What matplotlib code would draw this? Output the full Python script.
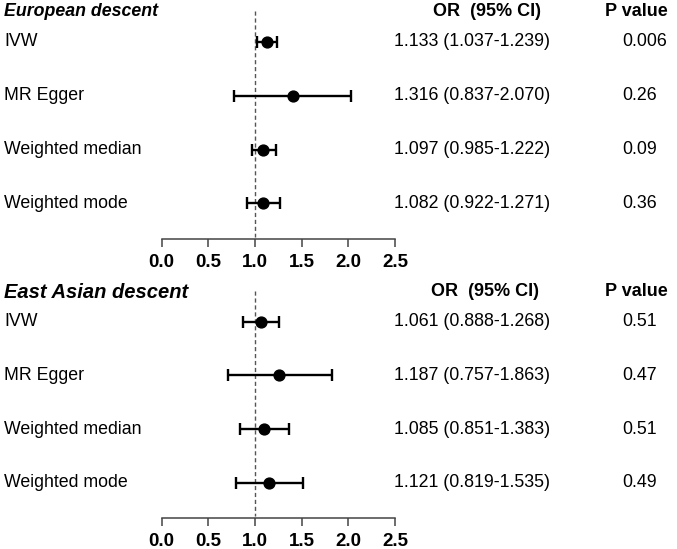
import matplotlib.pyplot as plt
import matplotlib.transforms as mtransforms

plt.rcParams['font.family'] = ['Liberation Sans', 'DejaVu Sans']

methods = ["IVW", "MR Egger", "Weighted median", "Weighted mode"]

# estimates as drawn in the picture (dot and whisker positions)
eur_or = [1.131, 1.404, 1.081, 1.089]
eur_lo = [1.024, 0.778, 0.971, 0.911]
eur_hi = [1.239, 2.025, 1.225, 1.267]
eur_ci = ["1.133 (1.037-1.239)", "1.316 (0.837-2.070)",
          "1.097 (0.985-1.222)", "1.082 (0.922-1.271)"]
eur_p = ["0.006", "0.26", "0.09", "0.36"]

eas_or = [1.064, 1.260, 1.100, 1.153]
eas_lo = [0.875, 0.714, 0.839, 0.793]
eas_hi = [1.260, 1.820, 1.367, 1.517]
eas_ci = ["1.061 (0.888-1.268)", "1.187 (0.757-1.863)",
          "1.085 (0.851-1.383)", "1.121 (0.819-1.535)"]
eas_p = ["0.51", "0.47", "0.51", "0.49"]

xticks = [0.0, 0.5, 1.0, 1.5, 2.0, 2.5]

W, H = 677, 549
fig = plt.figure(figsize=(W / 100, H / 100), dpi=100)


def panel(top_px, bottom_px, title, title_size, est, lo, hi, ci, pv, ci_head):
    ax = fig.add_axes([161.7 / W, 1 - bottom_px / H, (395 - 161.7) / W,
                       (bottom_px - top_px) / H])
    n = len(est)
    ypos = list(range(n))
    ax.set_xlim(0, 2.5)
    ax.set_ylim(n - 1 + 0.66, -0.78)
    ax.vlines(1.0, -0.58, n - 1 + 0.62, colors='#555555', linewidth=1,
              linestyles=(0, (3, 2)))
    xerr = [[e - l for e, l in zip(est, lo)], [h - e for e, h in zip(est, hi)]]
    ax.errorbar(est, ypos, xerr=xerr, fmt='o', color='black', ms=7.8,
                elinewidth=1.7, capsize=4.5, capthick=1.7, zorder=3)
    for s in ['top', 'right', 'left']:
        ax.spines[s].set_visible(False)
    ax.spines['bottom'].set_color('#444444')
    ax.spines['bottom'].set_linewidth(1.1)
    ax.set_yticks([])
    ax.set_xticks(xticks)
    ax.set_xticklabels(["%.1f" % t for t in xticks], fontweight='bold',
                       fontsize=13.5)
    ax.tick_params(axis='x', length=6, width=1.1, color='#444444', pad=5)

    tr = mtransforms.blended_transform_factory(fig.transFigure, ax.transData)
    fig.text(4 / W, 1 - (top_px + 12) / H, title, fontsize=title_size,
             fontweight='bold', fontstyle='italic', va='center')
    fig.text(ci_head / W, 1 - (top_px + 12) / H, "OR  (95% CI)", fontsize=13,
             fontweight='bold', va='center')
    fig.text(605 / W, 1 - (top_px + 12) / H, "P value", fontsize=13,
             fontweight='bold', va='center')
    for i in range(n):
        ax.text(4 / W, ypos[i], methods[i], transform=tr, fontsize=12.8,
                va='center')
        ax.text(394 / W, ypos[i], ci[i], transform=tr, fontsize=12.8,
                va='center')
        ax.text(622 / W, ypos[i], pv[i], transform=tr, fontsize=12.8,
                va='center')
    return ax


panel(0, 239, "European descent", 12.8, eur_or, eur_lo, eur_hi, eur_ci,
      eur_p, 433)
panel(280, 518, "East Asian descent", 14.5, eas_or, eas_lo, eas_hi, eas_ci,
      eas_p, 431)

fig.savefig("out.png", dpi=100)
